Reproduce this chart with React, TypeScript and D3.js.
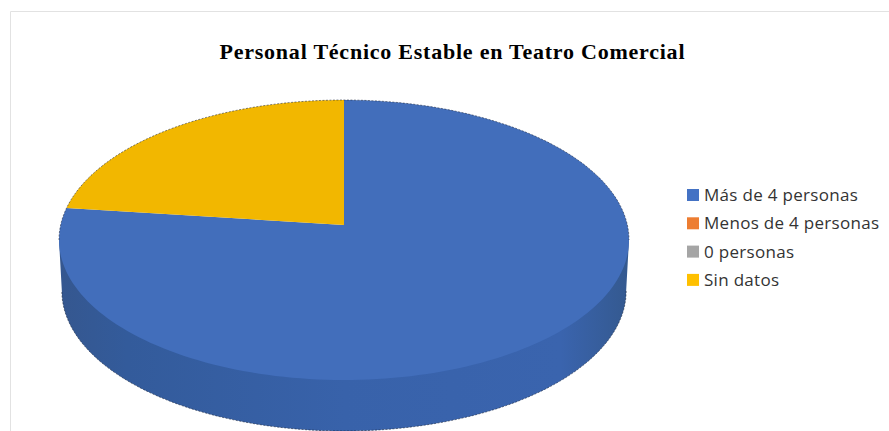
import React from "react";
import * as d3 from "d3";

const titleText = "Personal Técnico Estable en Teatro Comercial";
const categories = ["Más de 4 personas", "Menos de 4 personas", "0 personas", "Sin datos"];
const values = [77, 0, 0, 23];
const colors = ["#4472c4", "#ed7d31", "#a5a5a5", "#ffc000"];
const sliceColors = ["#426ebb", "#ed7d31", "#a5a5a5", "#f2b700"];
const sideStops = [
  [0, "#35578f"],
  [0.12, "#335b9b"],
  [0.5, "#3862aa"],
  [0.88, "#3a64ae"],
  [1, "#34598f"],
];

const W = 889;
const H = 431;
const cx = 344;
const rx = 285;
const yTop = 100;
const yBottom = 380;
const yApex = 225;
const depth = 51;

// perspective projection of the pie's unit circle onto the page
const c = (yTop + yBottom - 2 * yApex) / (yBottom - yTop);
const a = yTop * (1 + c) - yApex;
const K = rx * Math.sqrt(1 - c * c);
const project = (t: number, shrink = 1, dy = 0): [number, number] => {
  const u = Math.sin(t);
  const v = Math.cos(t);
  const w = 1 + c * v;
  return [cx + (shrink * K * u) / w, (a * v + yApex) / w + dy];
};
const apex: [number, number] = [cx, yApex];
const line = d3.line();

const arcs = d3.pie<number>().sort(null)(values);

function sweep(start: number, end: number, n = 180) {
  return d3.range(0, n + 1).map((i) => start + ((end - start) * i) / n);
}

function slicePath(start: number, end: number) {
  return line([apex, ...sweep(start, end).map((t) => project(t)), apex]) as string;
}

// the side runs between the two points where the rim is widest
const east = Math.PI / 2 + Math.asin(c);
const west = Math.PI * 2 - east;

function sidePoints() {
  return sweep(east, west).map((t) => project(t, 0.99, depth));
}

function sidePath() {
  return line([project(east), ...sidePoints(), project(west)]) as string;
}

function rimPath() {
  return line(sweep(west, east + Math.PI * 2).map((t) => project(t))) as string;
}

export default function App() {
  return (
    <svg
      width={W}
      height={H}
      viewBox={`0 0 ${W} ${H}`}
      style={{ position: "absolute", left: 0, top: 0, display: "block", background: "#fff" }}
    >
      <defs>
        <linearGradient id="side" x1="59" x2="629" y1="0" y2="0" gradientUnits="userSpaceOnUse">
          {sideStops.map(([o, col]) => (
            <stop key={String(o)} offset={Number(o)} stopColor={String(col)} />
          ))}
        </linearGradient>
      </defs>
      <path d={`M10.5 ${H}V11.5H${W}`} fill="none" stroke="#e2e2e2" />
      <text
        x={452}
        y={59}
        textAnchor="middle"
        fontFamily="'Liberation Serif', serif"
        fontWeight="bold"
        fontSize={22}
        fill="#000"
        textLength={465}
        lengthAdjust="spacing"
      >
        {titleText}
      </text>
      <path d={sidePath()} fill="url(#side)" />
      <path d={line(sidePoints()) as string} fill="none" stroke="#1e2a40" strokeWidth={0.8} strokeOpacity={0.75} strokeDasharray="2 1.5" />
      {arcs.map((d, i) =>
        d.value > 0 ? (
          <path key={categories[i]} d={slicePath(d.startAngle, d.endAngle)} fill={sliceColors[i]} />
        ) : null
      )}
      <path d={rimPath()} fill="none" stroke="#1e2a40" strokeWidth={0.8} strokeOpacity={0.7} strokeDasharray="2 1.5" />
      {categories.map((name, i) => (
        <g key={name} transform={`translate(687,${195 + i * 28.3})`}>
          <rect x={0} y={-6} width={12} height={12} fill={colors[i]} />
          <text
            x={17}
            y={6}
            fontFamily="'Open Sans', sans-serif"
            fontSize={17}
            letterSpacing={0.3}
            fill="#333"
          >
            {name}
          </text>
        </g>
      ))}
    </svg>
  );
}
